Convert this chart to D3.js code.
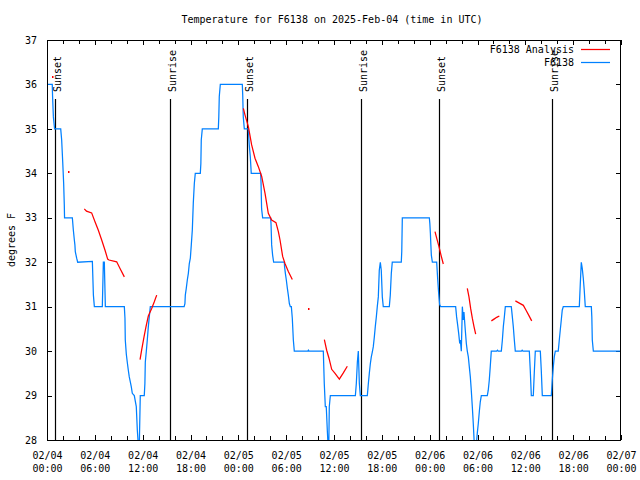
<!DOCTYPE html>
<html>
<head>
<meta charset="utf-8">
<script src="https://cdn.jsdelivr.net/npm/d3@7"></script>
<style>
  html, body { margin: 0; padding: 0; background: #fff; }
  svg { display: block; }
  text { font-family: "DejaVu Sans Mono", monospace; font-size: 10px; fill: #000; }
</style>
</head>
<body>
<svg id="chart" width="640" height="480"></svg>
<script>
// ---------- DATA ----------
const titleText = "Temperature for F6138 on 2025-Feb-04 (time in UTC)";
const yLabelText = "degrees F";
const seriesNames = ["F6138 Analysis", "F6138"];
const yTicks = [28, 29, 30, 31, 32, 33, 34, 35, 36, 37];

// hours since 2025-02-04 00:00 UTC
const sunsetHours = [1.05, 25.13, 49.22];
const sunriseHours = [15.47, 39.44, 63.4];

// Observed F6138 (hours, degrees F)
const obsHours = [0,0.66,0.7,0.8,0.95,1.72,1.84,1.97,2.09,2.17,2.2,3.18,3.3,3.43,3.5,3.55,3.72,3.85,5.69,5.82,5.94,6.94,7.07,7.19,7.32,9.7,9.78,9.82,9.95,10.07,10.2,10.32,10.45,10.57,10.7,10.95,11.2,11.33,11.45,11.58,11.7,12.2,12.28,12.33,12.46,12.58,12.71,12.83,12.96,
17.2,17.3,17.35,17.47,17.6,17.73,17.85,17.98,18.1,18.23,18.35,18.48,18.6,19.23,19.3,19.35,19.48,21.49,21.55,21.61,21.74,24.5,24.55,24.62,24.75,25.25,25.37,25.5,25.62,26.8,26.85,26.92,27.05,28.05,28.1,28.18,28.3,28.43,29.77,29.8,29.9,30.02,30.15,30.27,30.4,30.52,30.65,30.77,30.9,31.02,32.72,32.79,32.86,34.66,34.78,34.91,35.03,35.16,35.25,35.35,35.41,35.54,
38.68,38.8,38.93,39.05,39.18,39.3,40.18,40.31,40.43,40.56,40.68,40.81,40.93,41.06,41.18,41.31,41.43,41.56,41.68,41.81,41.93,42.06,42.18,42.94,43.06,43.19,43.31,44.44,44.5,44.57,47.96,48.02,48.09,48.15,48.21,48.34,48.88,49.0,49.13,49.25,49.38,
51.26,51.38,51.51,51.64,51.77,51.85,51.97,52.1,52.22,52.3,52.47,52.6,52.72,52.85,52.97,53.1,53.22,53.35,53.47,53.6,53.85,53.97,54.1,54.23,54.35,54.48,55.23,55.35,55.48,55.6,55.73,56.4,56.5,56.6,56.99,57.12,57.24,57.37,57.49,58.24,58.37,58.49,58.62,58.74,59.5,59.6,59.7,60.5,60.62,60.75,61.0,61.12,61.25,61.88,62.0,62.13,63.26,63.38,63.51,63.63,63.76,64.13,64.26,64.38,64.51,64.63,64.76,66.77,66.89,67.02,67.14,67.27,67.39,67.52,68.28,68.34,68.4,68.53,72];
const obsTemps = [36,36,35.73,35.27,35,35,34.75,34.26,33.77,33.29,33,33,32.73,32.5,32.39,32.24,32.09,32,32.02,31.26,31,31,32,32,31,31,30.74,30.25,29.93,29.75,29.57,29.42,29.31,29.2,29.05,29,28.75,28.22,27.9,27.9,29,29,29.27,29.75,30,30.25,30.55,30.77,31,
31,31.07,31.26,31.41,31.6,31.75,31.97,32.09,32.39,32.73,33.33,33.77,34,34,34.22,34.75,35,35,35.27,35.73,36,36,35.76,35.27,35,35,34.64,34.375,34,34,33.77,33.2,33,33,32.87,32.39,32.16,32,32,31.9,31.75,31.6,31.41,31.26,31.07,31,31,30.74,30.25,30,30,30.02,30,30,29.27,28.75,28.75,28.22,27.9,27.9,28.75,29,
29,29.27,29.75,30,29.27,29,29,29.27,29.5,29.72,29.87,29.98,30.1,30.32,30.55,30.77,31,31.22,31.82,32,31.82,31.22,31,31,31.26,31.75,32,32,32.24,33,33,32.875,32.65,32.39,32.16,32,32,31.64,31.3,31.05,31,
31,30.77,30.59,30.4,30.17,30.25,30,31,30.7,30.88,30.47,30.17,30,29.87,29.65,29.42,29.12,28.75,28.37,27.9,27.9,28.15,28.37,28.64,28.86,29,29,29.12,29.35,29.65,30,30,30.02,30,30,30.25,30.55,30.77,31,31,30.77,30.55,30.25,30,30,30.02,30,30,29.57,29,29,29.5,30,30,29.57,29,29,29.35,29.65,29.87,30,30,30.25,30.47,30.7,30.92,31,31,31.5,32,31.86,31.64,31.37,31,31,30.77,30.25,30,30];

// Analysis segments (null separates pieces)
const anaHours = [0.67, null,
  2.68, null,
  4.68,4.95,5.6,6.02,6.44,6.86,7.28,7.61,7.78,8.74,9.16,9.7, null,
  11.67,11.87,12.17,12.42,12.71,13.13,13.46,13.76, null,
  24.63,24.84,25.26,25.67,26.09,26.51,26.93,27.35,27.76,28.18,28.72,29.02,29.23,29.56,29.85,30.27,30.77, null,
  32.74, null,
  34.79,35.08,35.37,35.71,36.13,36.67,37.17,37.67, null,
  48.67,48.88,49.17,49.42,49.71, null,
  52.72,52.93,53.14,53.35,53.56,53.77, null,
  55.74,56.07,56.41,56.74, null,
  58.75,59.25,59.75,60.09,60.42,60.8];
const anaTemps = [36.19, null,
  34.05, null,
  33.2,33.15,33.11,32.91,32.72,32.5,32.27,32.07,32.05,32.01,31.86,31.67, null,
  29.81,30.02,30.32,30.55,30.79,30.96,31.11,31.26, null,
  35.46,35.31,35.05,34.64,34.34,34.15,33.93,33.55,33.1,32.95,32.89,32.69,32.5,32.13,31.97,31.79,31.61, null,
  30.96, null,
  30.26,30.02,29.84,29.59,29.5,29.37,29.51,29.66, null,
  32.69,32.54,32.35,32.16,31.96, null,
  31.41,31.22,30.96,30.74,30.55,30.38, null,
  30.68,30.72,30.76,30.79, null,
  31.13,31.08,31.03,30.92,30.81,30.68];

// ---------- CHART ----------
const colors = { analysis: "#ff0000", obs: "#0080ff" };
const W = 640, H = 480;
const M = { left: 47, right: 621, top: 40, bottom: 440 };
const t0 = Date.UTC(2025, 1, 4, 0, 0, 0);
const toDate = h => new Date(t0 + h * 3600e3);

const svg = d3.select("#chart");
svg.append("rect").attr("width", W).attr("height", H).attr("fill", "#fff");

const x = d3.scaleUtc().domain([toDate(0), toDate(72)]).range([M.left, M.right]);
const y = d3.scaleLinear().domain([28, 37]).range([M.bottom, M.top]);

const majorX = d3.utcHour.every(6).range(toDate(0), toDate(72.01));
const minorX = d3.utcHour.every(2).range(toDate(0), toDate(72.01));

// clip
svg.append("clipPath").attr("id", "plotclip")
  .append("rect").attr("x", M.left).attr("y", M.top)
  .attr("width", M.right - M.left).attr("height", M.bottom - M.top);

// minor ticks bottom/top
const axG = svg.append("g").attr("shape-rendering", "crispEdges");
axG.append("g").attr("transform", `translate(0,${M.bottom})`)
  .call(d3.axisBottom(x).tickValues(minorX).tickSize(-4).tickFormat(""))
  .call(g => g.select(".domain").remove());
axG.append("g").attr("transform", `translate(0,${M.top})`)
  .call(d3.axisTop(x).tickValues(minorX).tickSize(-4).tickFormat(""))
  .call(g => g.select(".domain").remove());

// major bottom with two-line labels
const fmtD = d3.utcFormat("%m/%d"), fmtT = d3.utcFormat("%H:%M");
axG.append("g").attr("transform", `translate(0,${M.bottom})`)
  .call(d3.axisBottom(x).tickValues(majorX).tickSize(-5).tickFormat(""))
  .call(g => g.select(".domain").remove())
  .call(g => g.selectAll(".tick").each(function(d) {
    const t = d3.select(this).append("text").attr("text-anchor", "middle").attr("fill", "#000")
      .style("font-family", '"DejaVu Sans Mono", monospace').style("font-size", "10px");
    t.append("tspan").attr("x", 0).attr("y", 19).text(fmtD(d));
    t.append("tspan").attr("x", 0).attr("y", 32).text(fmtT(d));
  }));
axG.append("g").attr("transform", `translate(0,${M.top})`)
  .call(d3.axisTop(x).tickValues(majorX).tickSize(-5).tickFormat(""))
  .call(g => g.select(".domain").remove());

// y axes
axG.append("g").attr("transform", `translate(${M.left},0)`)
  .call(d3.axisLeft(y).tickValues(yTicks).tickSize(-5).tickPadding(10).tickFormat(d3.format("d")))
  .call(g => g.select(".domain").remove())
  .call(g => g.selectAll("text").attr("fill", "#000")
    .style("font-family", '"DejaVu Sans Mono", monospace').style("font-size", "10px"));
axG.append("g").attr("transform", `translate(${M.right},0)`)
  .call(d3.axisRight(y).tickValues(yTicks).tickSize(-5).tickFormat(""))
  .call(g => g.select(".domain").remove());
axG.selectAll(".tick line").attr("stroke", "#000");

// sunrise / sunset markers
const sunEvents = sunsetHours.map(h => ({ h, label: "Sunset" }))
  .concat(sunriseHours.map(h => ({ h, label: "Sunrise" })));
const sunG = svg.append("g");
sunG.selectAll("line").data(sunEvents).join("line")
  .attr("x1", d => Math.round(x(toDate(d.h))) + 0.5).attr("x2", d => Math.round(x(toDate(d.h))) + 0.5)
  .attr("y1", 99).attr("y2", M.bottom)
  .attr("stroke", "#000").attr("stroke-width", 1.2);
sunG.selectAll("text").data(sunEvents).join("text")
  .attr("transform", d => `translate(${x(toDate(d.h)) + 5.5},92) rotate(-90)`)
  .attr("text-anchor", "start")
  .text(d => d.label);

// data lines
const plotG = svg.append("g").attr("clip-path", "url(#plotclip)");
const obsData = obsHours.map((h, i) => ({ h, v: obsTemps[i] }));
const anaData = anaHours.map((h, i) => ({ h, v: anaTemps[i] }));

const line = d3.line()
  .defined(d => d.h !== null && d.v !== null)
  .x(d => x(toDate(d.h))).y(d => y(d.v));

plotG.append("path").datum(obsData)
  .attr("fill", "none").attr("stroke", colors.obs).attr("stroke-width", 1.25)
  .attr("d", line);

plotG.append("path").datum(anaData)
  .attr("fill", "none").attr("stroke", colors.analysis).attr("stroke-width", 1.25)
  .attr("d", line);

// isolated analysis points
const isolated = anaData.filter((d, i) => d.h !== null &&
  (i === 0 || anaData[i - 1].h === null) &&
  (i === anaData.length - 1 || anaData[i + 1].h === null));
plotG.selectAll("rect.iso").data(isolated).join("rect").attr("class", "iso")
  .attr("x", d => Math.round(x(toDate(d.h)))).attr("y", d => Math.round(y(d.v)))
  .attr("width", 1.5).attr("height", 2).attr("fill", colors.analysis);

// border
svg.append("rect").attr("x", M.left + 0.5).attr("y", M.top + 0.5)
  .attr("width", M.right - M.left - 1).attr("height", M.bottom - M.top)
  .attr("fill", "none").attr("stroke", "#000").attr("shape-rendering", "crispEdges");

// title
svg.append("text").attr("x", 332).attr("y", 23).attr("text-anchor", "middle").text(titleText);

// y label
svg.append("text").attr("transform", "translate(15,240) rotate(-90)")
  .attr("text-anchor", "middle").text(yLabelText);

// legend
const legend = svg.append("g");
const legendItems = [
  { name: seriesNames[0], color: colors.analysis, y: 49.5 },
  { name: seriesNames[1], color: colors.obs, y: 62.5 }
];
legendItems.forEach(it => {
  legend.append("text").attr("x", 574).attr("y", it.y + 3.5).attr("text-anchor", "end").text(it.name);
  legend.append("line").attr("x1", 581).attr("x2", 610).attr("y1", it.y).attr("y2", it.y)
    .attr("stroke", it.color).attr("stroke-width", 1.25);
});
</script>
</body>
</html>
